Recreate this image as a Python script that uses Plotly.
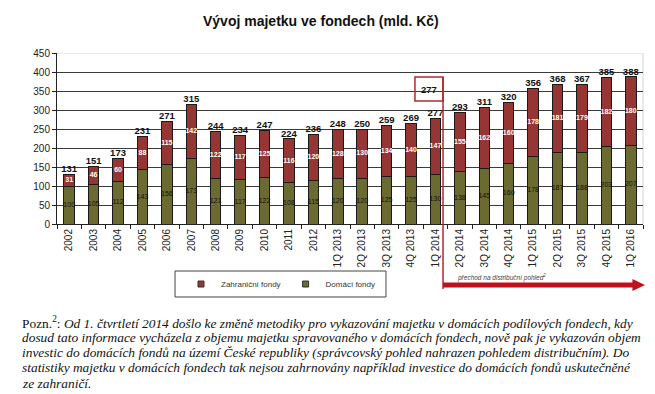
import plotly.graph_objects as go

categories = ["2002", "2003", "2004", "2005", "2006", "2007", "2008", "2009", "2010",
              "2011", "2012", "1Q 2013", "2Q 2013", "3Q 2013", "4Q 2013", "1Q 2014",
              "2Q 2014", "3Q 2014", "4Q 2014", "1Q 2015", "2Q 2015", "3Q 2015",
              "4Q 2015", "1Q 2016"]
domestic = [100, 105, 112, 143, 156, 173, 121, 117, 122, 108, 115, 120, 120, 125, 125,
            130, 138, 145, 160, 178, 187, 188, 203, 207]
foreign = [31, 46, 60, 88, 115, 142, 122, 117, 125, 116, 120, 128, 130, 134, 140,
           147, 155, 162, 160, 178, 181, 179, 182, 180]
totals = [131, 151, 173, 231, 271, 315, 244, 234, 247, 224, 236, 248, 250, 259, 269,
          277, 293, 311, 320, 356, 368, 367, 385, 388]
highlight_value = 277
y_ticks = [0, 50, 100, 150, 200, 250, 300, 350, 400, 450]

RED = "#953634"
GREEN = "#6b6a30"
FONT = "Liberation Sans, Arial, sans-serif"

fig = go.Figure()
fig.add_bar(x=categories, y=domestic, name="Domácí fondy", marker=dict(color=GREEN, line=dict(color="#1a1a1a", width=1)),
            showlegend=False, hoverinfo="skip")
fig.add_bar(x=categories, y=foreign, name="Zahraniční fondy", marker=dict(color=RED, line=dict(color="#1a1a1a", width=1)),
            showlegend=False, hoverinfo="skip")

# segment labels
fig.add_scatter(x=categories, y=[d / 2 for d in domestic], mode="text", text=[str(v) for v in domestic],
                textfont=dict(size=7, color="#111", family=FONT), showlegend=False, cliponaxis=False, hoverinfo="skip")
fig.add_scatter(x=categories, y=[d + f / 2 for d, f in zip(domestic, foreign)], mode="text",
                text=["<b>%d</b>" % v for v in foreign],
                textfont=dict(size=7, color="white", family=FONT), showlegend=False, cliponaxis=False, hoverinfo="skip")
fig.add_scatter(x=categories, y=[d + f for d, f in zip(domestic, foreign)], mode="text",
                text=["<b>%d</b>" % v for v in totals], textposition="top center",
                textfont=dict(size=9.5, color="#111", family=FONT), showlegend=False, cliponaxis=False, hoverinfo="skip")

# legend entries
fig.add_scatter(x=[None], y=[None], mode="markers", name="Zahraniční fondy",
                marker=dict(symbol="square", size=6, color=RED, line=dict(color="#333", width=1)))
fig.add_scatter(x=[None], y=[None], mode="markers", name="Domácí fondy",
                marker=dict(symbol="square", size=6, color=GREEN, line=dict(color="#333", width=1)))

shapes = []
# light frame top/right
shapes.append(dict(type="line", xref="paper", yref="y", x0=0, x1=1, y0=450, y1=450,
                   line=dict(color="#d4d4d4", width=1), layer="above"))
shapes.append(dict(type="line", xref="paper", yref="y", x0=1, x1=1, y0=0, y1=450,
                   line=dict(color="#d4d4d4", width=1), layer="below"))
# highlight box
shapes.append(dict(type="rect", xref="x", yref="y", x0=14.16, x1=15.31, y0=324, y1=387,
                   line=dict(color="#b0282c", width=1.5)))
# vertical red line
shapes.append(dict(type="line", xref="x", yref="paper", x0=15.31, x1=15.31, y0=0.86, y1=-0.38,
                   line=dict(color="#b0282c", width=1.5)))
# red arrow
shapes.append(dict(type="line", xref="paper", yref="paper", x0=0.6587, x1=0.985, y0=-0.357, y1=-0.357,
                   line=dict(color="#c0111a", width=5)))
shapes.append(dict(type="path", xref="paper", yref="paper",
                   path="M 0.982,-0.322 L 1.0034,-0.357 L 0.982,-0.392 Z",
                   fillcolor="#c0111a", line=dict(color="#c0111a", width=0)))
# legend box
shapes.append(dict(type="rect", xref="paper", yref="paper", x0=0.2014, x1=0.5614, y0=-0.2749, y1=-0.4269,
                   line=dict(color="#444", width=1)))

annotations = []
annotations.append(dict(xref="x", yref="y", x=14.73, y=355, text="<b>%d</b>" % highlight_value, showarrow=False,
                        font=dict(size=9.5, color="#111", family=FONT)))
annotations.append(dict(xref="paper", yref="paper", x=0.679, y=-0.31, xanchor="left", yanchor="middle",
                        text="<i>přechod na distribuční pohled<sup>2</sup></i>", showarrow=False,
                        font=dict(size=6.5, color="#444", family=FONT)))
annotations.append(dict(xref="paper", yref="paper", x=0.45, y=1, yanchor="bottom", yshift=22,
                        text="<b>Vývoj majetku ve fondech (mld. Kč)</b>", showarrow=False,
                        font=dict(size=14, color="#111", family=FONT)))

note_lines = [
    "Pozn.<sup>2</sup>: <i>Od 1. čtvrtletí 2014 došlo ke změně metodiky pro vykazování majetku v domácích podílových fondech, kdy</i>",
    "<i>dosud tato informace vycházela z objemu majetku spravovaného v domácích fondech, nově pak je vykazován objem</i>",
    "<i>investic do domácích fondů na území České republiky (správcovský pohled nahrazen pohledem distribučním). Do</i>",
    "<i>statistiky majetku v domácích fondech tak nejsou zahrnovány například investice do domácích fondů uskutečněné</i>",
    "<i>ze zahraničí.</i>",
]
for i, line in enumerate(note_lines):
    py = 314 + i * 15.3
    annotations.append(dict(xref="paper", yref="paper", x=(12 - 49) / 586, y=(216 - py) / 171,
                            xanchor="left", yanchor="middle", text=line, showarrow=False,
                            font=dict(size=13.4, color="#111", family="Liberation Serif, Times New Roman, serif")))

fig.update_layout(
    width=655, height=394,
    margin=dict(l=49, r=20, t=45, b=178),
    paper_bgcolor="white", plot_bgcolor="white",
    barmode="stack", bargap=0.57,
    font=dict(family=FONT, color="#222"),
    shapes=shapes, annotations=annotations,
    legend=dict(orientation="h", x=0.3814, y=-0.351, xanchor="center", yanchor="middle",
                bgcolor="rgba(0,0,0,0)", font=dict(size=8, color="#333", family=FONT),
                itemwidth=30, tracegroupgap=0, traceorder="normal"),
    xaxis=dict(type="category", range=[-0.5, 23.5], tickangle=-90, tickson="boundaries",
               ticks="outside", ticklen=4, tickcolor="#222", showline=True, linecolor="#222",
               linewidth=1, tickfont=dict(size=10, color="#222", family=FONT), showgrid=False),
    yaxis=dict(range=[0, 450], tickvals=y_ticks, ticks="outside", ticklen=4, tickcolor="#222",
               showline=True, linecolor="#222", linewidth=1, gridcolor="#3a3a3a", gridwidth=1,
               tickfont=dict(size=10, color="#222", family=FONT), zeroline=False),
)

fig.write_html("out.html")
